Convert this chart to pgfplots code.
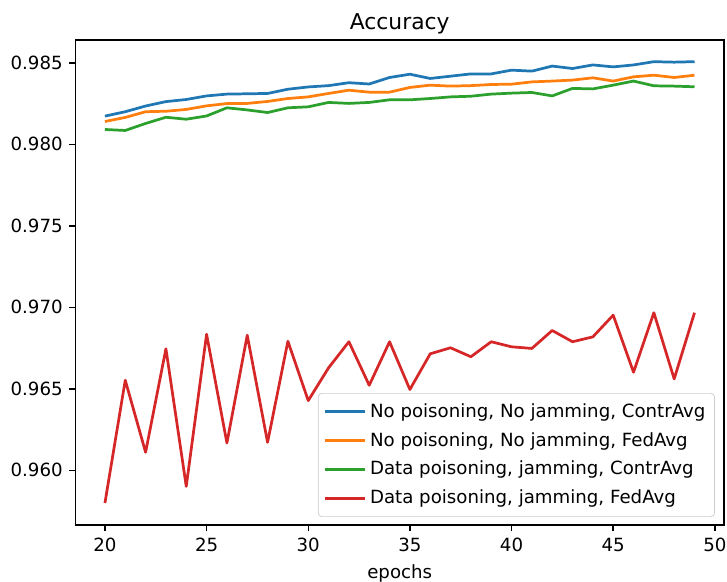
\documentclass[border=0pt]{standalone}
\usepackage{pgfplots}
\pgfplotsset{compat=1.18}
\usepackage{fontspec}
\setmainfont{DejaVu Sans}

\definecolor{c0}{HTML}{1F77B4}
\definecolor{c1}{HTML}{FF7F0E}
\definecolor{c2}{HTML}{2CA02C}
\definecolor{c3}{HTML}{D62728}

\begin{document}
\begin{tikzpicture}
\begin{axis}[
  scale only axis,
  width=356.7pt, height=266.75pt,
  xmin=18.55, xmax=50.45,
  ymin=0.95665, ymax=0.98640,
  xtick={20,25,...,50},
  ytick={0.960,0.965,0.970,0.975,0.980,0.985},
  y tick label style={/pgf/number format/.cd, fixed, fixed zerofill, precision=3},
  scaled y ticks=false,
  /pgf/number format/assume math mode=true,
  tick align=outside, xtick pos=bottom, ytick pos=left,
  major tick length=3.5pt,
  tick style={line width=0.8pt, black},
  axis line style={line width=0.8pt},
  ticklabel style={font=\fontsize{10}{12}\selectfont},
  title={Accuracy},
  title style={font=\fontsize{12}{14}\selectfont, yshift=-6.5pt},
  xlabel={epochs},
  xlabel style={font=\fontsize{10}{12}\selectfont, yshift=-0.3pt},
  every axis plot/.append style={line width=1.5pt, line join=round},
  legend cell align=left,
  legend style={at={(0.986,0.0165)}, anchor=south east,
    font=\fontsize{10}{12}\selectfont, draw=black!20, rounded corners=2pt,
    fill=white, fill opacity=0.8, text opacity=1,
    row sep=2.8pt, inner xsep=3pt, inner ysep=3.5pt},
  legend image code/.code={\draw[#1] (0pt,0pt) -- (22pt,0pt);},
]
\addplot[c0] coordinates {
  (20,0.98173) (21,0.98200) (22,0.98235) (23,0.98262) (24,0.98275)
  (25,0.98297) (26,0.98308) (27,0.98310) (28,0.98312) (29,0.98338)
  (30,0.98352) (31,0.98360) (32,0.98378) (33,0.98370) (34,0.98410)
  (35,0.98430) (36,0.98404) (37,0.98418) (38,0.98432) (39,0.98432)
  (40,0.98455) (41,0.98449) (42,0.98480) (43,0.98465) (44,0.98487)
  (45,0.98475) (46,0.98487) (47,0.98507) (48,0.98504) (49,0.98507)};
\addplot[c1] coordinates {
  (20,0.98140) (21,0.98165) (22,0.98200) (23,0.98203) (24,0.98214)
  (25,0.98236) (26,0.98250) (27,0.98251) (28,0.98263) (29,0.98281)
  (30,0.98291) (31,0.98312) (32,0.98332) (33,0.98320) (34,0.98320)
  (35,0.98349) (36,0.98363) (37,0.98357) (38,0.98360) (39,0.98367)
  (40,0.98369) (41,0.98383) (42,0.98388) (43,0.98394) (44,0.98408)
  (45,0.98388) (46,0.98414) (47,0.98424) (48,0.98410) (49,0.98424)};
\addplot[c2] coordinates {
  (20,0.98091) (21,0.98085) (22,0.98128) (23,0.98166) (24,0.98154)
  (25,0.98174) (26,0.98224) (27,0.98211) (28,0.98195) (29,0.98224)
  (30,0.98230) (31,0.98257) (32,0.98251) (33,0.98257) (34,0.98273)
  (35,0.98273) (36,0.98281) (37,0.98291) (38,0.98295) (39,0.98308)
  (40,0.98314) (41,0.98318) (42,0.98297) (43,0.98343) (44,0.98340)
  (45,0.98363) (46,0.98388) (47,0.98359) (48,0.98357) (49,0.98353)};
\addplot[c3] coordinates {
  (20,0.95800) (21,0.96553) (22,0.96111) (23,0.96746) (24,0.95902)
  (25,0.96835) (26,0.96168) (27,0.96829) (28,0.96172) (29,0.96792)
  (30,0.96428) (31,0.96629) (32,0.96789) (33,0.96522) (34,0.96789)
  (35,0.96496) (36,0.96715) (37,0.96752) (38,0.96697) (39,0.96789)
  (40,0.96758) (41,0.96748) (42,0.96858) (43,0.96789) (44,0.96819)
  (45,0.96952) (46,0.96602) (47,0.96967) (48,0.96561) (49,0.96967)};
\legend{No poisoning{,} No jamming{,} ContrAvg,
        No poisoning{,} No jamming{,} FedAvg,
        Data poisoning{,} jamming{,} ContrAvg,
        Data poisoning{,} jamming{,} FedAvg}
\end{axis}
\pgfresetboundingbox
\useasboundingbox ([shift={(-41.5pt,-31.35pt)}]current axis.south west)
  rectangle ([shift={(1.65pt,22pt)}]current axis.north east);
\end{tikzpicture}
\end{document}
